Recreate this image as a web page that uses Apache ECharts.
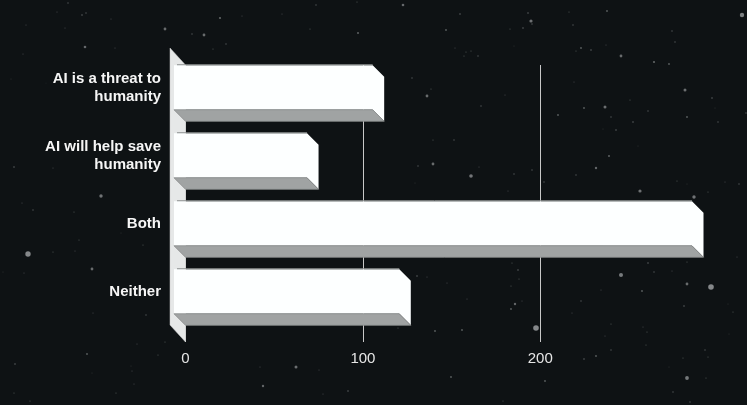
<!DOCTYPE html>
<html>
<head>
<meta charset="utf-8">
<style>html,body{margin:0;padding:0;background:#0e1214}#c{width:747px;height:405px}</style>
<script src="https://cdn.jsdelivr.net/npm/echarts@6/dist/echarts.min.js"></script>
</head>
<body>
<div id="c"></div>
<script>
const categories = ['AI is a threat to\nhumanity', 'AI will help save\nhumanity', 'Both', 'Neither'];
const responses = [112, 75, 292, 127];
const tickValues = [0, 100, 200];

// decorative backdrop, not chart data: [x, y, radius]
const starfield = [[68,3,.7],[57,12,.5],[82,15,.8],[86,13,.7],[26,25,.5],[65,28,.5],[111,19,.5],[165,29,1.4],[192,34,.7],[204,35,1.4],[220,18,1.1],[242,16,.5],[282,14,.5],[316,5,.7],[357,2,.6],[358,33,1],[310,29,.6],[226,44,.7],[213,49,.6],[85,47,1.3],[115,48,.5],[23,54,.5],
[403,5,1.3],[460,14,.8],[446,30,.9],[528,13,.8],[531,21,1.6],[532,24,.7],[523,28,.8],[510,29,.6],[569,12,.6],[573,25,.7],[607,11,.9],[742,15,2.2],[672,31,.7],[675,42,.7],[606,45,.5],[581,48,.9],[576,51,.6],[591,50,.8],[621,56,1.4],[654,62,1.1],[669,64,.9],[455,48,.5],[466,52,.6],[471,51,.6],[464,56,.6],[478,56,.7],[514,46,.4],
[137,344,.5],[165,342,.6],[87,354,.9],[158,355,.6],[15,364,.8],[131,366,.4],[132,371,.5],[92,373,.4],[134,384,.5],[14,393,.6],[116,393,.6],[30,401,.6],[260,367,.5],[296,367,1.5],[319,370,.5],[263,386,1.2],[323,394,.5],[348,391,.8],
[398,328,.6],[435,331,.9],[462,330,.9],[536,328,2.8],[605,336,.5],[611,350,.7],[596,356,.9],[584,359,.8],[643,327,.5],[647,332,.6],[646,345,.6],[705,350,.7],[708,357,.6],[683,358,.6],[669,367,.4],[687,378,1.9],[706,378,.6],[673,392,.7],[690,402,.7],[729,334,.4],[451,377,.9],[545,381,.9],[503,401,.6],
[101,196,1.7],[28,254,2.7],[92,269,1.4],[14,167,.8],[53,168,.5],[22,203,.5],[33,210,.7],[74,212,.6],[79,240,.6],[53,252,.6],[75,251,.5],[24,273,.5],[3,272,.4],[93,313,.5],[146,315,.7],[143,245,.6],[121,233,.4],[11,79,.4],[46,83,.3],
[412,78,.7],[431,89,.6],[427,96,1.4],[481,106,.7],[505,95,.5],[433,140,.6],[454,140,.7],[418,166,.7],[433,164,1.4],[479,167,.5],[471,176,1.8],[514,174,.7],[532,170,.7],[415,183,.4],[508,191,.5],[574,82,.5],[558,115,.9],[584,108,.9],[605,107,1.5],[611,117,.7],[633,122,.8],[630,100,.6],[648,111,.7],[685,90,1.5],[712,98,.8],[715,108,.4],[718,122,.7],[687,117,.9],[746,113,.7],[616,130,.8],[603,129,.4],[638,146,.4],[609,156,1],[596,168,1.2],[576,175,.7],[544,182,.7],[640,191,1.6],[677,181,.6],[694,197,1.7],[708,192,.6],[725,182,.5],[739,184,.7],[687,184,.4],
[512,263,.6],[518,270,.8],[519,279,.6],[511,286,.6],[417,276,.8],[427,277,.5],[447,283,.5],[467,299,.5],[522,301,.5],[515,304,1.2],[511,309,.9],[648,263,.8],[654,272,.7],[672,271,.5],[687,262,.6],[621,275,2],[687,284,1.4],[711,287,2.8],[642,291,.9],[601,290,.5],[581,301,.7],[684,306,.8],[728,304,.4],[733,312,.6],[572,313,.5],[611,324,.6],[737,257,.5]];

const chart = echarts.init(document.getElementById('c'), null, {renderer: 'canvas'});

const DEPTH = 11.5;      // bar depth offset
const WALL_X = 15.5;     // back-wall depth
const WALL_Y = 17;
const EXTEND = 5;        // how far the wall and gridlines run past the plot
const LABEL_GAP = 24.5;

function renderBar(params, api) {
  const i = api.value(1);
  const p = api.coord([api.value(0), i]);
  const base = api.coord([0, i]);
  const h = api.size([0, 1])[1] * 0.655;
  const top = p[1] - h / 2, bot = p[1] + h / 2;
  const xr = p[0], xl = base[0];
  const d = DEPTH;
  return {
    type: 'group',
    children: [
      {type: 'polygon', shape: {points: [[xl - d, top - d], [xr - d, top - d], [xr, top], [xr, bot], [xr - d, bot - d], [xl - d, bot - d]]},
        style: {fill: '#fdffff'}},
      {type: 'polygon', shape: {points: [[xl - d, bot - d], [xr - d, bot - d], [xr, bot], [xl, bot]]},
        style: {fill: '#a0a3a3', stroke: '#8a8d8d', lineWidth: 0.8}},
      {type: 'line', shape: {x1: xl - d + 3, y1: top - d - 0.5, x2: xr - d, y2: top - d - 0.5},
        style: {stroke: '#8f9292', lineWidth: 1}},
      {type: 'text', style: {
        text: categories[i], x: xl - LABEL_GAP, y: top - d + h / 2,
        align: 'right', verticalAlign: 'middle',
        fill: '#f6f6f6', font: 'bold 15px "Liberation Sans"', lineHeight: 18
      }}
    ]
  };
}

function renderWall(params, api) {
  const cs = params.coordSys;
  const x = cs.x, y = cs.y, b = cs.y + cs.height + EXTEND;
  return {
    type: 'polygon',
    shape: {points: [[x - WALL_X, y - WALL_Y], [x, y], [x, b], [x - WALL_X, b - WALL_Y]]},
    style: {fill: '#e6e8e8', stroke: '#c8caca', lineWidth: 0.5}
  };
}

chart.setOption({
  animation: false,
  backgroundColor: '#0e1214',
  graphic: {elements: starfield.map(s => ({
    type: 'circle', silent: true, z: -10,
    shape: {cx: s[0], cy: s[1], r: s[2]},
    style: {fill: '#85888a', opacity: Math.min(1, 0.45 + s[2] * 0.22)}
  }))},
  grid: {left: 185.5, right: 43.5, top: 65, height: 272},
  xAxis: {
    type: 'value', min: 0, max: 292, interval: 100,
    axisLine: {show: false},
    axisTick: {show: true, length: EXTEND, lineStyle: {color: '#c8c8c8', width: 1}, customValues: tickValues},
    axisLabel: {color: '#e6e6e6', fontSize: 15, fontFamily: 'Liberation Sans', margin: 14, customValues: tickValues},
    splitLine: {show: true, lineStyle: {color: '#c8c8c8', width: 1}}
  },
  yAxis: {
    type: 'category', inverse: true, data: categories,
    axisLine: {show: false}, axisTick: {show: false}, axisLabel: {show: false}
  },
  series: [
    {type: 'custom', name: 'wall', silent: true, z: 1, renderItem: renderWall, data: [[0, 0]], encode: {x: 0, y: 1}},
    {type: 'custom', name: 'Responses', z: 2, clip: false, renderItem: renderBar,
      data: responses.map((v, i) => [v, i]), encode: {x: 0, y: 1}}
  ]
});
</script>
</body>
</html>
